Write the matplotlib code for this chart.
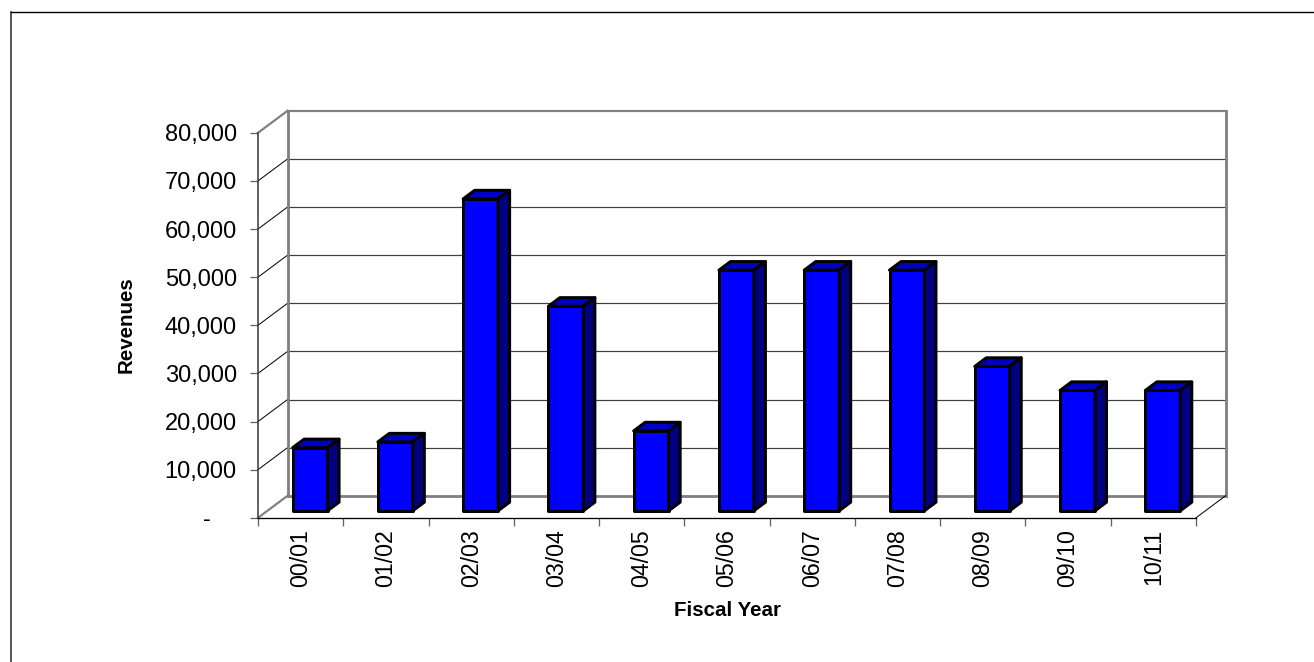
"""Fiscal year revenues as an Excel style 3D column chart."""
import matplotlib
matplotlib.use("Agg")
import matplotlib.pyplot as plt
from matplotlib.lines import Line2D
from matplotlib.patches import Polygon

plt.rcParams["font.family"] = ["Liberation Sans", "DejaVu Sans"]

W, H = 1314, 662
PX = 0.72  # one pixel in points at dpi 100

years = ["00/01", "01/02", "02/03", "03/04", "04/05", "05/06",
         "06/07", "07/08", "08/09", "09/10", "10/11"]
revenues = [13100, 14300, 64800, 42500, 16600, 50000, 50000, 50000, 30000, 25000, 25000]
y_ticks = [0, 10000, 20000, 30000, 40000, 50000, 60000, 70000, 80000]
# accounting format: the dash for zero sits left of the digit columns
y_labels = ["-    ", "10,000", "20,000", "30,000", "40,000", "50,000", "60,000", "70,000", "80,000"]

# oblique projection: how far a unit of depth shifts things on the front plane
DEPTH_X = 0.346
DEPTH_Y = 4571
BAR_W = 0.41
BAR_Z0, BAR_Z1 = 0.32, 0.71


def proj(x, y, z):
    return x + z * DEPTH_X, y + z * DEPTH_Y


fig = plt.figure(figsize=(W / 100, H / 100), dpi=100, facecolor="white")
ax = fig.add_axes([258 / W, 1 - 517.8 / H, 938 / W, 385 / H])
ax.set_xlim(0, len(years))
ax.set_ylim(0, 80000)
ax.patch.set_visible(False)

for name in ("top", "right"):
    ax.spines[name].set_visible(False)
ax.spines["left"].set_color("#404040")
ax.spines["left"].set_linewidth(1.6 * PX)
ax.spines["bottom"].set_color("black")
ax.spines["bottom"].set_linewidth(1.3 * PX)

ax.set_yticks(y_ticks, y_labels, fontsize=17)
ax.tick_params(axis="y", length=8 * PX, width=1.3 * PX, color="#606060", pad=9.5)
ax.set_xticks(range(len(years) + 1), [""] * (len(years) + 1))
ax.tick_params(axis="x", which="major", length=8 * PX, width=1.3 * PX, color="#606060")
ax.set_xticks([i + 0.5 for i in range(len(years))], years, minor=True,
              rotation=90, fontsize=16.7)
ax.tick_params(axis="x", which="minor", length=0, pad=8)

n = len(years)
GREY = "#808080"


def wall_line(p, q, color=GREY, lw=2.2):
    ax.plot([p[0], q[0]], [p[1], q[1]], color=color, lw=lw * PX, clip_on=False,
            solid_capstyle="projecting", zorder=1)


# gridlines on the side wall and the back wall
for v in y_ticks[1:-1]:
    wall_line((0, v), proj(0, v, 1), color="black", lw=1.0)
    wall_line(proj(0, v, 1), proj(n, v, 1), color="#404040", lw=1.2)

# wall outline
wall_line(proj(0, 0, 1), proj(0, 80000, 1), lw=2.8)
wall_line(proj(n, 0, 1), proj(n, 80000, 1), lw=2.8)
wall_line(proj(0, 80000, 1), proj(n, 80000, 1))
wall_line(proj(0, 0, 1), proj(n, 0, 1), lw=2.8)
wall_line((0, 80000), proj(0, 80000, 1))
wall_line((0, 0), proj(0, 0, 1))
wall_line((n, 0), proj(n, 0, 1), color="black", lw=1.0)

# the columns: front, top and side faces
for i, val in enumerate(revenues):
    x0 = i + 0.5 - BAR_W / 2
    x1 = i + 0.5 + BAR_W / 2
    faces = [
        ([proj(x0, 0, BAR_Z0), proj(x1, 0, BAR_Z0), proj(x1, val, BAR_Z0), proj(x0, val, BAR_Z0)], "#0000FF"),
        ([proj(x0, val, BAR_Z0), proj(x1, val, BAR_Z0), proj(x1, val, BAR_Z1), proj(x0, val, BAR_Z1)], "#0000C0"),
        ([proj(x1, 0, BAR_Z0), proj(x1, 0, BAR_Z1), proj(x1, val, BAR_Z1), proj(x1, val, BAR_Z0)], "#000080"),
    ]
    for pts, col in faces:
        ax.add_patch(Polygon(pts, closed=True, facecolor=col, edgecolor="black",
                             lw=3.0 * PX, joinstyle="round", clip_on=False, zorder=3))

fig.text(727.5 / W, 1 - 610 / H, "Fiscal Year", fontsize=14.8, fontweight="bold",
         ha="center", va="center")
fig.text(126 / W, 1 - 324.5 / H, "Revenues", fontsize=14.8, fontweight="bold",
         rotation=90, ha="center", va="center")

# chart area border runs off the right and bottom of the image
fig.add_artist(Line2D([10.5 / W, 10.5 / W], [0, 1 - 11.5 / H], color="#303030", lw=1.6 * PX))
fig.add_artist(Line2D([10.5 / W, 1], [1 - 11.5 / H, 1 - 11.5 / H], color="black", lw=1.4 * PX))

fig.savefig("out.png", dpi=100, facecolor="white")
